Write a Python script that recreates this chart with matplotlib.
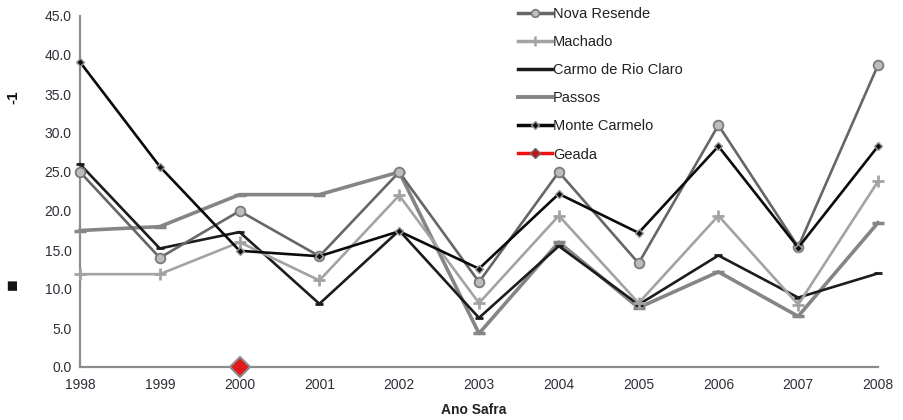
import matplotlib.pyplot as plt
from matplotlib.lines import Line2D

plt.rcParams['font.family'] = ['Liberation Sans', 'DejaVu Sans']

# --- dados ---
anos = [1998, 1999, 2000, 2001, 2002, 2003, 2004, 2005, 2006, 2007, 2008]
nova_resende = [25.0, 14.0, 20.0, 14.2, 25.0, 10.9, 25.0, 13.3, 31.0, 15.4, 38.7]
machado = [11.9, 11.9, 16.0, 11.1, 22.0, 8.2, 19.4, 8.2, 19.4, 8.0, 23.8]
carmo_rio_claro = [26.0, 15.2, 17.3, 8.1, 17.5, 6.3, 15.5, 8.0, 14.3, 8.9, 12.0]
passos = [17.5, 18.0, 22.1, 22.1, 25.0, 4.3, 16.0, 7.6, 12.2, 6.5, 18.5]
monte_carmelo = [39.1, 25.7, 14.9, 14.2, 17.4, 12.6, 22.2, 17.2, 28.3, 15.3, 28.3]
geada_anos = [2000]
geada = [0.0]

fig = plt.figure(figsize=(9.04, 4.2), dpi=100)
ax = fig.add_axes([80 / 904, 1 - 367 / 420, (878 - 80) / 904, (367 - 16) / 420])

ax.plot(anos, passos, color='#858585', lw=2.6, marker='_', ms=9, mew=2.5,
        zorder=2, clip_on=False)
ax.plot(anos, carmo_rio_claro, color='#1c1c1c', lw=1.9, marker='_', ms=6, mew=2,
        zorder=3, clip_on=False)
ax.plot(anos, machado, color='#a3a3a3', lw=1.9, marker='+', ms=9, mew=2,
        zorder=3, clip_on=False)
ax.plot(anos, nova_resende, color='#666666', lw=1.9, marker='o', ms=7,
        mfc='#bdbdbd', mec='#7a7a7a', mew=1.3, zorder=4, clip_on=False)
ax.plot(anos, monte_carmelo, color='#0a0a0a', lw=1.9, marker='D', ms=4.5,
        mfc='#111111', mec='#9a9a9a', mew=1, zorder=5, clip_on=False)
ax.plot(geada_anos, geada, color='#ee1111', lw=2, marker='D', ms=10,
        mfc='#e01b1b', mec='#8a8a8a', mew=1.5, zorder=6, clip_on=False)

ax.set_xlim(1998, 2008)
ax.set_ylim(0, 45)
ax.set_xticks(anos)
ax.set_yticks([0, 5, 10, 15, 20, 25, 30, 35, 40, 45])
ax.set_yticklabels([f'{v:.1f}' for v in ax.get_yticks()])
ax.tick_params(axis='both', length=0, labelsize=10, labelcolor='#2e2e38', pad=6)
ax.tick_params(axis='x', pad=8)

for s in ['top', 'right']:
    ax.spines[s].set_visible(False)
for s in ['left', 'bottom']:
    ax.spines[s].set_color('#8c8c8c')
    ax.spines[s].set_linewidth(1.6)

fig.text(474 / 904, 1 - 410 / 420, 'Ano Safra', ha='center', va='center',
         fontsize=10, fontweight='bold', color='#222222')
# rótulo do eixo y (renderizado quebrado na figura original)
fig.text(13 / 904, 1 - 97 / 420, '-1', rotation=90, ha='center', va='center',
         fontsize=11, fontweight='bold', color='#111111')
fig.text(13 / 904, 1 - 284 / 420, '■', rotation=90, ha='center', va='center',
         fontsize=14, color='#111111')

# legenda com marcadores pequenos
legenda = [
    Line2D([], [], color='#666666', lw=2.5, marker='o', ms=5.5, mfc='#bdbdbd', mec='#7a7a7a', mew=1.2),
    Line2D([], [], color='#a3a3a3', lw=2.5, marker='+', ms=7, mew=1.8),
    Line2D([], [], color='#1c1c1c', lw=2.5),
    Line2D([], [], color='#858585', lw=2.8),
    Line2D([], [], color='#0a0a0a', lw=2.5, marker='D', ms=4, mfc='#111111', mec='#9a9a9a', mew=1),
    Line2D([], [], color='#ee1111', lw=2.5, marker='D', ms=5, mfc='#c41414', mec='#6a6a6a', mew=1),
]
nomes = ['Nova Resende', 'Machado', 'Carmo de Rio Claro', 'Passos', 'Monte Carmelo', 'Geada']
fig.legend(legenda, nomes, loc='upper left',
           bbox_to_anchor=(505 / 904, 1.015), frameon=False, fontsize=10.5,
           handlelength=2.3, handletextpad=0.1, labelspacing=0.97,
           labelcolor='#222222')

plt.savefig('out.png', dpi=100)
